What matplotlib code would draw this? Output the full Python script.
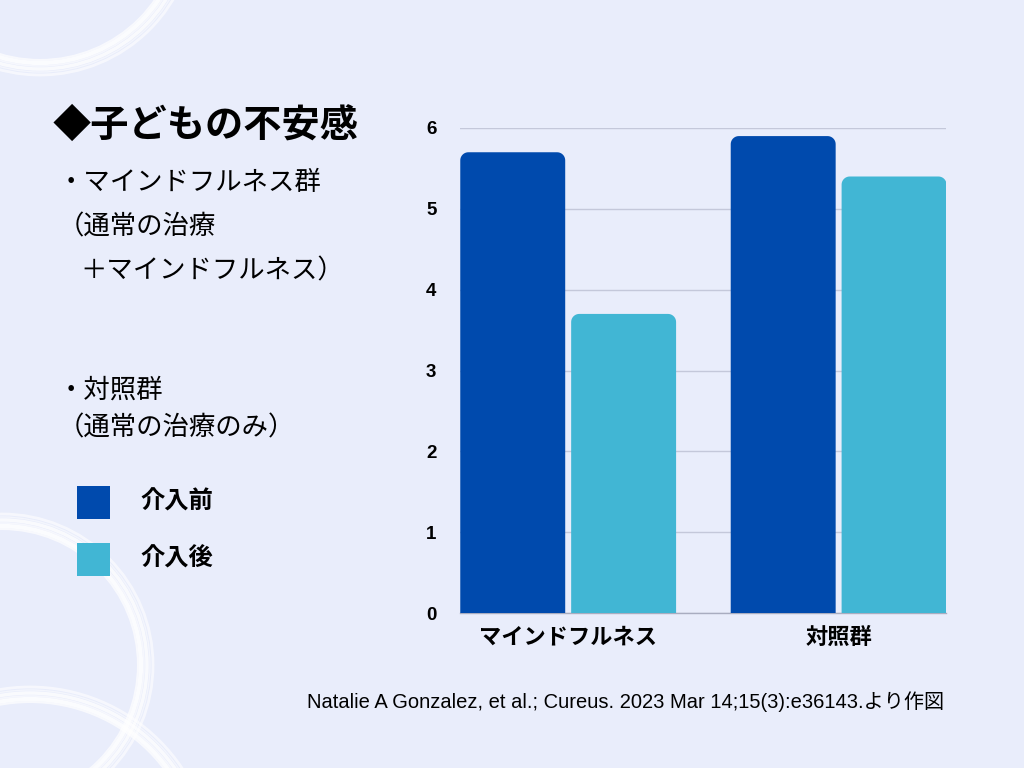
import matplotlib
matplotlib.use("Agg")
import matplotlib.pyplot as plt
from matplotlib.patches import Rectangle, Circle, PathPatch
from matplotlib.path import Path
import numpy as np

plt.rcParams['font.family'] = ['Noto Sans CJK JP', 'DejaVu Sans']

# data
groups = ['マインドフルネス', '対照群']
series = ['介入前', '介入後']
before = [5.7, 5.9]
after = [3.7, 5.4]
yticks = [0, 1, 2, 3, 4, 5, 6]

BG = '#E9EDFB'
DARK = '#004AAD'
LIGHT = '#41B6D4'

fig = plt.figure(figsize=(10.24, 7.68), dpi=100, facecolor=BG)

# background decoration (white brush circles)
deco = fig.add_axes([0, 0, 1, 1], zorder=0)
deco.set_xlim(0, 1024)
deco.set_ylim(768, 0)
deco.axis('off')
deco.set_facecolor(BG)
for (cx, cy, r0) in [(40, -80, 140), (2, 665, 136), (30, 870, 168)]:
    for dr, lw, a in [(0, 1.5, 0.7), (3, 3.0, 0.85), (6, 1.2, 0.6),
                      (9, 2.5, 0.75), (12, 1.0, 0.5), (15, 2.0, 0.6)]:
        deco.add_patch(Circle((cx, cy), r0 + dr, fill=False,
                              ec='white', lw=lw, alpha=a))

ax = fig.add_axes([460 / 1024, 1 - 613 / 768, 486 / 1024, 485 / 768], zorder=1)
ax.set_facecolor('none')

x = np.arange(len(groups))
w = 0.388
off = 0.205
b1 = ax.bar(x - off, before, w, color=DARK, alpha=0)
b2 = ax.bar(x + off, after, w, color=LIGHT, alpha=0)

ax.set_xlim(-0.4, 1.397)
ax.set_ylim(0, 6)


def top_rounded(x0, y0, bw, bh, rx, ry):
    t = np.linspace(0, np.pi / 2, 12)
    pts = [(x0, y0), (x0 + bw, y0)]
    # top right corner
    for a in t:
        pts.append((x0 + bw - rx + rx * np.cos(a), y0 + bh - ry + ry * np.sin(a)))
    # top left corner
    for a in t:
        pts.append((x0 + rx - rx * np.sin(a), y0 + bh - ry + ry * np.cos(a)))
    pts.append((x0, y0))
    return Path(pts, closed=True)


# rounded top corners
rx = 0.03
ry = 0.1
for bars, col in [(b1, DARK), (b2, LIGHT)]:
    for rect in bars:
        p = top_rounded(rect.get_x(), rect.get_y(), rect.get_width(),
                        rect.get_height(), rx, ry)
        ax.add_patch(PathPatch(p, fc=col, ec='none', zorder=3))

ax.set_yticks(yticks)
ax.set_yticklabels([str(t) for t in yticks], fontsize=13.5, fontweight='bold',
                   family=['Liberation Sans', 'DejaVu Sans'])
ax.set_xticks(x)
ax.set_xticklabels(groups, fontsize=16, fontweight='bold')
ax.tick_params(axis='y', length=0, pad=17)
ax.tick_params(axis='x', length=0, pad=9)
ax.yaxis.grid(True, color='#C4C8DA', lw=1)
ax.set_axisbelow(True)
for s in ['top', 'right', 'left']:
    ax.spines[s].set_visible(False)
ax.spines['bottom'].set_color('#A9ADC0')
ax.spines['bottom'].set_linewidth(1)

# left side texts
fig.text(53 / 1024, 1 - 125 / 768, '◆子どもの不安感', fontsize=27.5,
         fontweight='bold', va='center', ha='left')
lines = [(58, 183, '・マインドフルネス群'),
         (58, 227, '（通常の治療'),
         (80, 271, '＋マインドフルネス）'),
         (58, 390, '・対照群'),
         (58, 428, '（通常の治療のみ）')]
for lx, ly, txt in lines:
    fig.text(lx / 1024, 1 - ly / 768, txt, fontsize=19, va='center', ha='left')

# legend
for i, (name, col) in enumerate(zip(series, [DARK, LIGHT])):
    yc = 502 + i * 57
    fig.patches.append(Rectangle((77 / 1024, 1 - (yc + 16.5) / 768),
                                 33 / 1024, 33 / 768, fc=col, ec='none',
                                 transform=fig.transFigure, figure=fig))
    fig.text(140 / 1024, 1 - yc / 768, name, fontsize=17.5, fontweight='bold',
             va='center', ha='left')

fig.text(944 / 1024, 1 - 702 / 768,
         'Natalie A Gonzalez, et al.; Cureus. 2023 Mar 14;15(3):e36143.より作図',
         fontsize=14.5, va='center', ha='right',
         family=['Liberation Sans', 'Noto Sans CJK JP'])

fig.savefig('out.png', dpi=100, facecolor=BG)
